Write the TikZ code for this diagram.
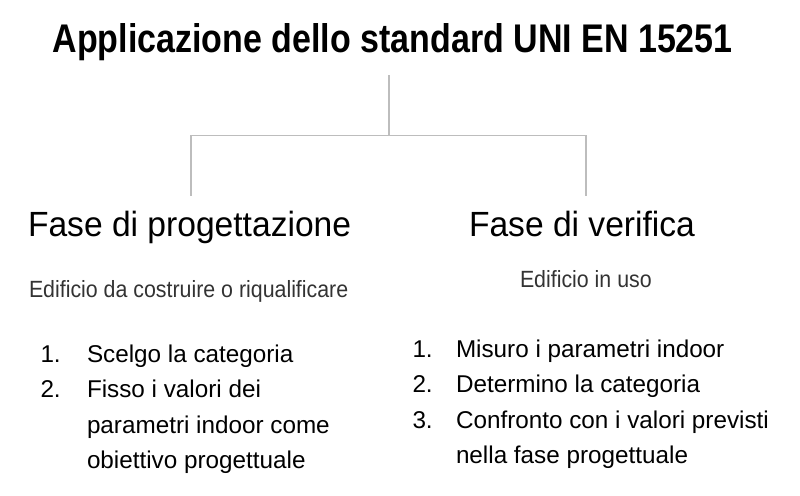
\documentclass[tikz,border=0pt]{standalone}
\usepackage{fontspec}
\setmainfont{Liberation Sans}
\newfontfamily\titlefont{Liberation Sans}[FakeStretch=0.85]
\newfontfamily\headfont{Liberation Sans}[FakeStretch=0.96]
\newfontfamily\subfont{Liberation Sans}[FakeStretch=0.91]
\newfontfamily\listfont{Liberation Sans}
\definecolor{treegray}{HTML}{BDBDBD}
\definecolor{subgray}{HTML}{333333}
\tikzset{
  txt/.style={anchor=base west, inner sep=0pt, outer sep=0pt},
  titletxt/.style={txt, font=\titlefont\bfseries\fontsize{30}{36}\selectfont},
  headtxt/.style={txt, font=\headfont\fontsize{26.25}{31}\selectfont},
  subtxt/.style={txt, text=subgray, font=\subfont\fontsize{17.6}{21}\selectfont},
  itemtxt/.style={txt, font=\listfont\fontsize{18.2}{22}\selectfont},
  tree/.style={draw=treegray, line width=1pt}
}
\begin{document}
\begin{tikzpicture}[x=0.75pt,y=-0.75pt]
\useasboundingbox (0,0) rectangle (800,496);
% title
\node[titletxt] (title) at (52.5,52.7) {Applicazione dello standard UNI EN 15251};
% headers
\node[headtxt] (hl) at (28,236) {Fase di progettazione};
\node[headtxt] (hr) at (469,236.5) {Fase di verifica};
% subtitles
\node[subtxt] (sl) at (29,297.3) {Edificio da costruire o riqualificare};
\node[subtxt] (sr) at (520,287.3) {Edificio in uso};
% left list
\node[itemtxt] (ln1) at (40.5,362) {1.};
\node[itemtxt] (lt1) at (87,362) {Scelgo la categoria};
\node[itemtxt] (ln2) at (40.5,397.5) {2.};
\node[itemtxt] (lt2) at (87,397.5) {Fisso i valori dei};
\node[itemtxt] (lt2b) at (87,433) {parametri indoor come};
\node[itemtxt] (lt2c) at (87,468.5) {obiettivo progettuale};
% right list
\node[itemtxt] (rn1) at (412.5,357) {1.};
\node[itemtxt] (rt1) at (456,357) {Misuro i parametri indoor};
\node[itemtxt] (rn2) at (412.5,392.5) {2.};
\node[itemtxt] (rt2) at (456,392.5) {Determino la categoria};
\node[itemtxt] (rn3) at (412.5,428) {3.};
\node[itemtxt] (rt3) at (456,428) {Confronto con i valori previsti};
\node[itemtxt] (rt3b) at (456,463.5) {nella fase progettuale};
% tree connectors
\coordinate (t0) at (389,75);
\coordinate (j) at (389,135.3);
\coordinate (l0) at (191,196);
\coordinate (r0) at (586,196);
\draw[tree] (t0) -- (j);
\draw[tree] (l0) |- (j) -| (r0);
\end{tikzpicture}
\end{document}
